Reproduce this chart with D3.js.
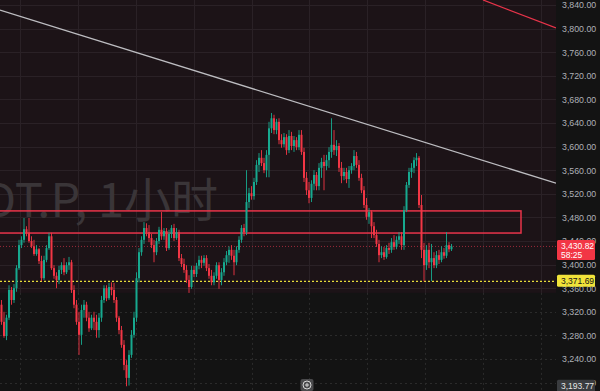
<!DOCTYPE html>
<html>
<head>
<meta charset="utf-8">
<script src="https://cdn.jsdelivr.net/npm/d3@7"></script>
<style>
  html, body { margin: 0; padding: 0; background: #131313; }
  svg { display: block; }
</style>
</head>
<body>
<svg id="chart" width="600" height="391"></svg>
<script>
// hourly candles, index 0 = first visible bar
const opens = [3332,3303,3279,3310,3357,3340,3360,3394,3433,3442,3460,3454,3440,3431,3418,3426,3406,3377,3408,3428,
  3448,3394,3381,3374,3391,3399,3387,3399,3404,3357,3332,3303,3281,3323,3332,3310,3292,3310,3303,3289,
  3310,3340,3360,3343,3362,3357,3340,3310,3289,3264,3230,3208,3247,3281,3310,3377,3421,3442,3462,3455,
  3445,3433,3421,3440,3459,3448,3457,3428,3452,3462,3445,3455,3411,3401,3391,3374,3362,3391,3384,3398,
  3408,3403,3411,3394,3381,3370,3381,3399,3374,3387,3404,3416,3425,3415,3404,3425,3442,3462,3455,3506,
  3521,3516,3540,3569,3581,3572,3560,3586,3631,3648,3628,3642,3611,3604,3616,3594,3618,3601,3611,3599,
  3620,3591,3547,3526,3513,3537,3552,3533,3564,3574,3567,3577,3591,3603,3594,3601,3564,3550,3557,3545,
  3560,3567,3584,3569,3547,3526,3501,3481,3489,3465,3450,3435,3416,3421,3413,3428,3425,3438,3430,3442,
  3448,3433,3492,3535,3557,3564,3577,3581,3501,3425,3399,3425,3404,3411,3399,3416,3408,3421,3415,3433,
  3426];
const closes = [3303,3279,3310,3357,3340,3360,3394,3433,3442,3460,3454,3440,3431,3418,3426,3406,3377,3408,3428,3448,
  3394,3381,3374,3391,3399,3387,3399,3404,3357,3332,3303,3281,3323,3332,3310,3292,3310,3303,3289,3310,
  3340,3360,3343,3362,3357,3340,3310,3289,3264,3230,3208,3247,3281,3310,3377,3421,3442,3462,3455,3445,
  3433,3421,3440,3459,3448,3457,3428,3452,3462,3445,3455,3411,3401,3391,3374,3362,3391,3384,3398,3408,
  3403,3411,3394,3381,3370,3381,3399,3374,3387,3404,3416,3425,3415,3404,3425,3442,3462,3455,3506,3521,
  3516,3540,3569,3581,3572,3560,3586,3631,3648,3628,3642,3611,3604,3616,3594,3618,3601,3611,3599,3620,
  3591,3547,3526,3513,3537,3552,3533,3564,3574,3567,3577,3591,3603,3594,3601,3564,3550,3557,3545,3560,
  3567,3584,3569,3547,3526,3501,3481,3489,3465,3450,3435,3416,3421,3413,3428,3425,3438,3430,3442,3448,
  3433,3492,3535,3557,3564,3577,3581,3501,3425,3399,3425,3404,3411,3399,3416,3408,3421,3415,3433,3426,
  3430.82];
const highs = [3340,3320,3315,3365,3362,3367,3399,3442,3448,3479,3465,3479,3448,3442,3433,3428,3415,3415,3433,3454,
  3454,3399,3387,3398,3404,3411,3404,3413,3408,3365,3340,3320,3332,3340,3337,3320,3315,3320,3315,3318,
  3347,3365,3365,3369,3370,3369,3345,3313,3296,3272,3238,3255,3289,3320,3387,3428,3448,3472,3470,3467,
  3452,3442,3445,3464,3489,3462,3462,3459,3467,3469,3462,3459,3418,3410,3399,3382,3398,3398,3403,3415,
  3415,3416,3416,3401,3391,3387,3404,3404,3394,3411,3423,3431,3433,3425,3431,3448,3467,3469,3560,3530,
  3533,3547,3577,3589,3594,3581,3594,3642,3657,3654,3647,3648,3621,3623,3621,3628,3625,3618,3616,3628,
  3628,3598,3557,3540,3543,3560,3557,3572,3581,3586,3586,3599,3648,3628,3611,3606,3574,3564,3564,3567,
  3572,3594,3591,3577,3554,3533,3513,3496,3492,3472,3459,3442,3431,3430,3433,3437,3445,3450,3448,3455,
  3455,3499,3540,3564,3572,3582,3589,3584,3518,3437,3433,3437,3435,3421,3423,3425,3431,3428,3455,3438,
  3435];
const lows = [3298,3276,3272,3306,3332,3335,3354,3391,3428,3437,3448,3437,3428,3415,3415,3401,3372,3374,3404,3425,
  3391,3376,3360,3367,3384,3382,3384,3391,3352,3326,3298,3247,3264,3310,3304,3286,3289,3289,3276,3276,
  3303,3335,3338,3340,3348,3335,3303,3282,3259,3221,3193.77,3195,3242,3276,3303,3370,3415,3435,3448,3438,
  3428,3404,3416,3435,3442,3442,3423,3425,3445,3440,3442,3406,3396,3386,3369,3352,3359,3379,3379,3392,
  3394,3398,3389,3376,3365,3365,3376,3359,3365,3381,3399,3403,3408,3382,3399,3420,3437,3448,3450,3496,
  3510,3510,3535,3557,3567,3555,3548,3548,3623,3621,3621,3604,3598,3599,3586,3589,3594,3591,3594,3594,
  3586,3540,3518,3504,3506,3526,3526,3526,3547,3526,3560,3564,3581,3586,3584,3557,3538,3543,3538,3530,
  3554,3560,3564,3542,3521,3496,3476,3469,3445,3445,3430,3404,3411,3408,3410,3418,3420,3425,3426,3435,
  3425,3425,3489,3530,3547,3555,3567,3496,3411,3371.69,3391,3394,3372,3394,3394,3401,3404,3410,3411,3421,
  3423];

// price axis ticks and day separators (bar index)
const priceTicks = d3.range(3200, 3841, 40);
const dayBreaks = [7.4, 30.6, 53.8, 77, 100.2, 123, 146.2, 169.4, 192.6, 215.8];

// drawings
const lastPrice = 3430.82;
const countdown = '58:25';
const lowLine = 3371.69;
const lowestLabel = 3193.77;
const zoneTop = 3352;                       // shaded zone lower edge
const boxPrices = [3453.5, 3491];           // red rectangle
const boxEnd = 207.8;
const greyTrend = [[-0.6, 3831.5], [221.8, 3538]];
const redTrend = [[192.6, 3848.5], [221.8, 3801]];
const watermark = 'XAUUSDT.P, 1小时';

const W = 600, H = 391, plotW = 556;
const svg = d3.select('#chart');

const x = d3.scaleLinear().domain([-0.6, 221.8]).range([0, plotW]);
const y = d3.scaleLinear().domain([3240, 3840]).range([359, 5]);

svg.append('defs').append('clipPath').attr('id', 'plotClip')
  .append('rect').attr('x', 0).attr('y', 0).attr('width', plotW).attr('height', H);

svg.append('rect').attr('width', W).attr('height', H).attr('fill', '#131313');

const plot = svg.append('g').attr('clip-path', 'url(#plotClip)');

// shaded zone
plot.append('rect')
  .attr('x', 0).attr('y', 0)
  .attr('width', plotW).attr('height', y(zoneTop))
  .attr('fill', '#1c1317');

// grid: solid inside the zone, dotted below it
const gridUp = plot.append('g');
const gridDown = plot.append('g');
priceTicks.forEach(p => {
  const yy = Math.round(y(p)) + 0.5;
  const g = yy < y(zoneTop) ? gridUp : gridDown;
  g.append('line').attr('x1', 0).attr('x2', plotW).attr('y1', yy).attr('y2', yy);
});
dayBreaks.forEach(d => {
  const xx = Math.round(x(d)) + 0.5;
  gridUp.append('line').attr('x1', xx).attr('x2', xx).attr('y1', 0).attr('y2', y(zoneTop));
  gridDown.append('line').attr('x1', xx).attr('x2', xx).attr('y1', y(zoneTop)).attr('y2', H);
});
gridUp.selectAll('line').attr('stroke', '#2a2126').attr('stroke-width', 1);
gridDown.selectAll('line').attr('stroke', '#2b2b2b').attr('stroke-width', 1).attr('stroke-dasharray', '2,3');

// watermark (cut by the left edge, as on screen)
plot.append('text')
  .attr('x', 218).attr('y', 217)
  .attr('text-anchor', 'end')
  .attr('font-family', '"Noto Sans CJK SC", "Noto Sans", sans-serif')
  .attr('font-size', 47)
  .attr('fill', '#3a3538')
  .text(watermark);

// red rectangle
plot.append('rect')
  .attr('x', -5).attr('y', y(boxPrices[1]))
  .attr('width', x(boxEnd) + 5)
  .attr('height', y(boxPrices[0]) - y(boxPrices[1]))
  .attr('fill', 'none')
  .attr('stroke', '#e8344a').attr('stroke-width', 1.5);

// current price and low lines
plot.append('line')
  .attr('x1', 0).attr('x2', plotW)
  .attr('y1', y(lastPrice)).attr('y2', y(lastPrice))
  .attr('stroke', '#9c2a3a').attr('stroke-width', 1).attr('stroke-dasharray', '1,2');
plot.append('line')
  .attr('x1', 0).attr('x2', plotW)
  .attr('y1', y(lowLine)).attr('y2', y(lowLine))
  .attr('stroke', '#e6dc3a').attr('stroke-width', 1.2).attr('stroke-dasharray', '2,2');

// candles
const candles = d3.range(closes.length).map(i => ({
  i, o: opens[i], h: highs[i], l: lows[i], c: closes[i]
}));
const up = '#17a98f', down = '#f23645';

const candleG = plot.selectAll('g.candle')
  .data(candles)
  .enter()
  .append('g')
    .attr('class', 'candle');

candleG.append('line')
  .attr('x1', d => x(d.i)).attr('x2', d => x(d.i))
  .attr('y1', d => y(d.h)).attr('y2', d => y(d.l))
  .attr('stroke', d => d.c >= d.o ? up : down)
  .attr('stroke-width', 0.9);

candleG.append('rect')
  .attr('x', d => x(d.i) - 1)
  .attr('y', d => y(Math.max(d.o, d.c)))
  .attr('width', 2)
  .attr('height', d => Math.max(1, Math.abs(y(d.o) - y(d.c))))
  .attr('fill', d => d.c >= d.o ? up : down);

// trend lines
const line = d3.line().x(d => x(d[0])).y(d => y(d[1]));
plot.append('path').datum(greyTrend)
  .attr('d', line).attr('fill', 'none')
  .attr('stroke', '#bdbdc1').attr('stroke-width', 1.3);
plot.append('path').datum(redTrend)
  .attr('d', line).attr('fill', 'none')
  .attr('stroke', '#e8344a').attr('stroke-width', 1.3);

// price axis
const fmt = d3.format(',.2f');
const axisG = svg.append('g')
  .attr('transform', 'translate(' + plotW + ',0)')
  .call(d3.axisRight(y).tickValues(priceTicks).tickFormat(fmt).tickSize(0).tickPadding(6));
axisG.select('.domain').remove();
axisG.selectAll('text')
  .attr('fill', '#aeb0b6')
  .attr('font-family', '"Liberation Sans", Arial, sans-serif')
  .attr('font-size', 8.8);

// axis labels
const labelX = plotW + 1, labelW = 38;
const tag = (price, h, fill, color, lines) => {
  const g = svg.append('g');
  g.append('rect')
    .attr('x', labelX).attr('y', y(price) - 6.5)
    .attr('width', labelW).attr('height', h)
    .attr('rx', 1.5)
    .attr('fill', fill);
  lines.forEach((t, k) => {
    g.append('text')
      .attr('x', labelX + 4).attr('y', y(price) + k * 8.5)
      .attr('dy', '0.35em')
      .attr('fill', color)
      .attr('font-family', '"Liberation Sans", Arial, sans-serif')
      .attr('font-size', 8.5)
      .text(t);
  });
};
tag(lastPrice, 20, '#f23645', '#ffffff', [fmt(lastPrice), countdown]);
tag(lowLine, 12, '#f0e33a', '#131313', [fmt(lowLine)]);
tag(lowestLabel, 12, '#3a3c3f', '#e6e6e6', [fmt(lowestLabel)]);

// scroll button at the bottom
const btn = svg.append('g').attr('transform', 'translate(307,385)');
btn.append('rect').attr('x', -6.5).attr('y', -6).attr('width', 13).attr('height', 12)
  .attr('rx', 2).attr('fill', '#4a4a4c');
btn.append('circle').attr('r', 4).attr('fill', 'none').attr('stroke', '#d6d6d6').attr('stroke-width', 1);
btn.append('path').attr('d', 'M-2,0H2M0,-2V2').attr('stroke', '#d6d6d6').attr('stroke-width', 1);
</script>
</body>
</html>
